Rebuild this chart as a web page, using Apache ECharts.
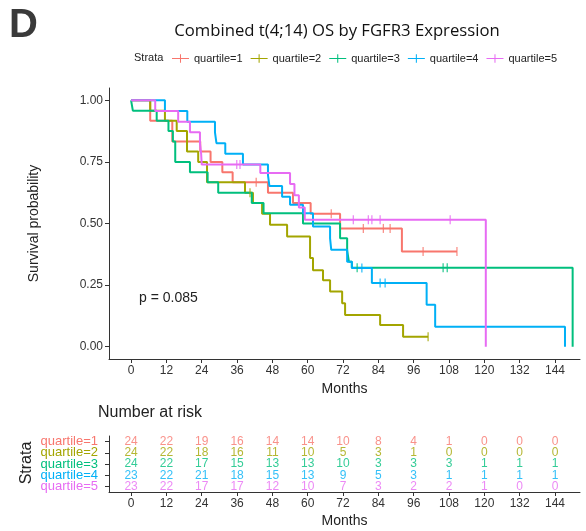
<!DOCTYPE html>
<html>
<head>
<meta charset="utf-8">
<script src="https://cdn.jsdelivr.net/npm/echarts@6/dist/echarts.min.js"></script>
<style>
html, body { margin: 0; padding: 0; background: #fff; }
#chart { width: 586px; height: 531px; }
</style>
</head>
<body>
<div id="chart"></div>
<script>
const strata = ['quartile=1', 'quartile=2', 'quartile=3', 'quartile=4', 'quartile=5'];
const colors = ['#F8766D', '#A3A500', '#00BF7D', '#00B0F6', '#E76BF3'];
const monthTicks = [0, 12, 24, 36, 48, 60, 72, 84, 96, 108, 120, 132, 144];
const probTicks = [0, 0.25, 0.5, 0.75, 1];

// KM steps (time in months, survival)
const q1Time = [0, 6.5, 14, 23.5, 27, 31, 34.5, 46.5, 55, 61, 71, 92, 110.7];
const q1Surv = [1, 0.917, 0.833, 0.792, 0.75, 0.708, 0.667, 0.625, 0.583, 0.54, 0.48, 0.386, 0.386];
const q1Censor = [42.5, 68, 78.9, 85.7, 88, 99.2, 110.7];

const q2Time = [0, 6.5, 11.5, 15.5, 19, 22.8, 25.8, 38.7, 41.4, 44.5, 47.2, 53, 60.8, 61.8, 65.2, 67.6, 71.7, 72.7, 84.6, 92.4, 100.9];
const q2Surv = [1, 0.958, 0.917, 0.875, 0.792, 0.75, 0.667, 0.625, 0.583, 0.54, 0.495, 0.447, 0.36, 0.31, 0.27, 0.224, 0.176, 0.129, 0.088, 0.04, 0.04];
const q2Censor = [40.4, 100.9];

const q3Time = [0, 0.6, 8.7, 12.7, 14.2, 15, 20, 26, 29.6, 41, 45, 58.4, 71, 73.4, 74, 75, 150];
const q3Surv = [1, 0.958, 0.917, 0.875, 0.833, 0.75, 0.708, 0.667, 0.625, 0.583, 0.542, 0.5, 0.44, 0.39, 0.345, 0.32, 0];
const q3Censor = [76.8, 106, 107.4];

const q4Time = [0, 11.5, 19.1, 28.5, 29, 32, 38, 46.5, 47, 51.3, 54, 58.4, 61.8, 67.6, 68, 73.4, 75, 81.8, 100.4, 103.3, 147.4];
const q4Surv = [1, 0.957, 0.913, 0.87, 0.826, 0.783, 0.739, 0.696, 0.652, 0.609, 0.576, 0.542, 0.488, 0.44, 0.393, 0.345, 0.319, 0.258, 0.17, 0.081, 0];
const q4Censor = [78.4, 84.6, 86.3];

const q5Time = [0, 8.2, 16, 20, 23.4, 23.8, 24, 43.9, 54, 55.5, 57, 59, 120.5];
const q5Surv = [1, 0.957, 0.913, 0.87, 0.826, 0.783, 0.739, 0.705, 0.66, 0.615, 0.565, 0.515, 0];
const q5Censor = [35.9, 37, 75.5, 80.6, 81.8, 84.6, 108.4];

// number at risk at each month tick
const q1Risk = [24, 22, 19, 16, 14, 14, 10, 8, 4, 1, 0, 0, 0];
const q2Risk = [24, 22, 18, 16, 11, 10, 5, 3, 1, 0, 0, 0, 0];
const q3Risk = [24, 22, 17, 15, 13, 13, 10, 3, 3, 3, 1, 1, 1];
const q4Risk = [23, 22, 21, 18, 15, 13, 9, 5, 3, 1, 1, 1, 1];
const q5Risk = [23, 22, 17, 17, 12, 10, 7, 3, 2, 2, 1, 0, 0];

const pValue = 'p = 0.085';

const curves = [
    { t: q1Time, s: q1Surv, c: q1Censor },
    { t: q2Time, s: q2Surv, c: q2Censor },
    { t: q3Time, s: q3Surv, c: q3Censor },
    { t: q4Time, s: q4Surv, c: q4Censor },
    { t: q5Time, s: q5Surv, c: q5Censor }
];
const risks = [q1Risk, q2Risk, q3Risk, q4Risk, q5Risk];

const survAt = (cv, time) => {
    let v = cv.s[0];
    for (let i = 0; i < cv.t.length; i++) {
        if (cv.t[i] <= time) v = cv.s[i];
    }
    return v;
};

const font = 'Liberation Sans, Arial, sans-serif';
const plusIcon = 'path://M0,4.4h20v1.2h-20z M9.4,0h1.2v10h-1.2z';

const chart = echarts.init(document.getElementById('chart'));

const series = [];
curves.forEach((cv, i) => {
    series.push({
        name: strata[i],
        type: 'line',
        step: 'end',
        xAxisIndex: 0,
        yAxisIndex: 0,
        showSymbol: false,
        symbol: 'none',
        lineStyle: { color: colors[i], width: 2 },
        itemStyle: { color: colors[i] },
        data: cv.t.map((t, k) => [t, cv.s[k]]),
        z: 2
    });
});
curves.forEach((cv, i) => {
    series.push({
        name: 'censor' + (i + 1),
        type: 'scatter',
        xAxisIndex: 0,
        yAxisIndex: 0,
        symbol: 'rect',
        symbolSize: [1.3, 9],
        itemStyle: { color: colors[i] },
        data: cv.c.map(t => [t, survAt(cv, t)]),
        z: 3
    });
});
risks.forEach((r, i) => {
    series.push({
        name: 'risk' + (i + 1),
        type: 'scatter',
        xAxisIndex: 1,
        yAxisIndex: 1,
        symbolSize: 0,
        itemStyle: { color: colors[i] },
        label: {
            show: true,
            position: 'inside',
            color: colors[i],
            fontFamily: font,
            fontSize: 12,
            formatter: p => p.value[2]
        },
        data: r.map((n, k) => [monthTicks[k], strata[i], n])
    });
});

const axisLineStyle = { show: true, onZero: false, lineStyle: { color: '#333', width: 1 } };

const monthAxis = (gridIndex) => ({
    type: 'value', gridIndex: gridIndex, min: -7.5, max: 152.5,
    axisLine: axisLineStyle,
    splitLine: { show: false },
    axisTick: { show: true, length: 4, customValues: monthTicks, lineStyle: { color: '#333' } },
    axisLabel: { customValues: monthTicks, fontFamily: font, fontSize: 12, color: '#333', margin: 6 },
    name: 'Months', nameLocation: 'middle', nameGap: 22,
    nameTextStyle: { fontFamily: font, fontSize: 14, color: '#222' }
});

const option = {
    animation: false,
    backgroundColor: '#fff',
    grid: [
        { left: 109, top: 88, width: 471, height: 271 },
        { left: 109, top: 436, width: 471, height: 56 }
    ],
    legend: {
        data: strata.map(s => ({ name: s, icon: plusIcon })),
        left: 172,
        top: 53,
        padding: 0,
        itemWidth: 17,
        itemHeight: 10,
        itemGap: 8,
        textStyle: { fontFamily: font, fontSize: 11, color: '#222' },
        selectedMode: false
    },
    xAxis: [monthAxis(0), monthAxis(1)],
    yAxis: [
        {
            type: 'value', gridIndex: 0, min: -0.05, max: 1.05,
            axisLine: axisLineStyle,
            splitLine: { show: false },
            axisTick: { show: true, length: 4, customValues: probTicks, lineStyle: { color: '#333' } },
            axisLabel: {
                customValues: probTicks, fontFamily: font, fontSize: 12, color: '#333', margin: 6,
                formatter: v => v.toFixed(2)
            },
            name: 'Survival probability', nameLocation: 'middle', nameGap: 68, nameRotate: 90,
            nameTextStyle: { fontFamily: font, fontSize: 14, color: '#222' }
        },
        {
            type: 'category', gridIndex: 1, data: strata, inverse: true,
            axisLine: axisLineStyle,
            splitLine: { show: false },
            axisTick: { show: true, length: 4, alignWithLabel: true, lineStyle: { color: '#333' } },
            axisLabel: {
                interval: 0, fontFamily: font, fontSize: 13, margin: 11,
                color: (v, idx) => colors[strata.indexOf(v)]
            }
        }
    ],
    graphic: [
        { type: 'text', left: 9, top: 6, style: { text: 'D', font: 'bold 40px ' + font, fill: '#3a3a3a' } },
        { type: 'text', x: 337, y: 31, style: { text: 'Combined t(4;14) OS by FGFR3 Expression', font: '16.7px Open Sans', fill: '#111', textAlign: 'center', textVerticalAlign: 'middle' } },
        { type: 'text', x: 134, y: 58, style: { text: 'Strata', font: '11px ' + font, fill: '#222', textVerticalAlign: 'middle' } },
        { type: 'text', x: 139, y: 298, style: { text: pValue, font: '14px ' + font, fill: '#222', textVerticalAlign: 'middle' } },
        { type: 'text', x: 98, y: 413, style: { text: 'Number at risk', font: '16px ' + font, fill: '#222', textVerticalAlign: 'middle' } },
        { type: 'text', x: 27, y: 463, rotation: Math.PI / 2, style: { text: 'Strata', font: '16px ' + font, fill: '#222', textAlign: 'center', textVerticalAlign: 'middle' } }
    ],
    series: series
};

chart.setOption(option);
</script>
</body>
</html>
